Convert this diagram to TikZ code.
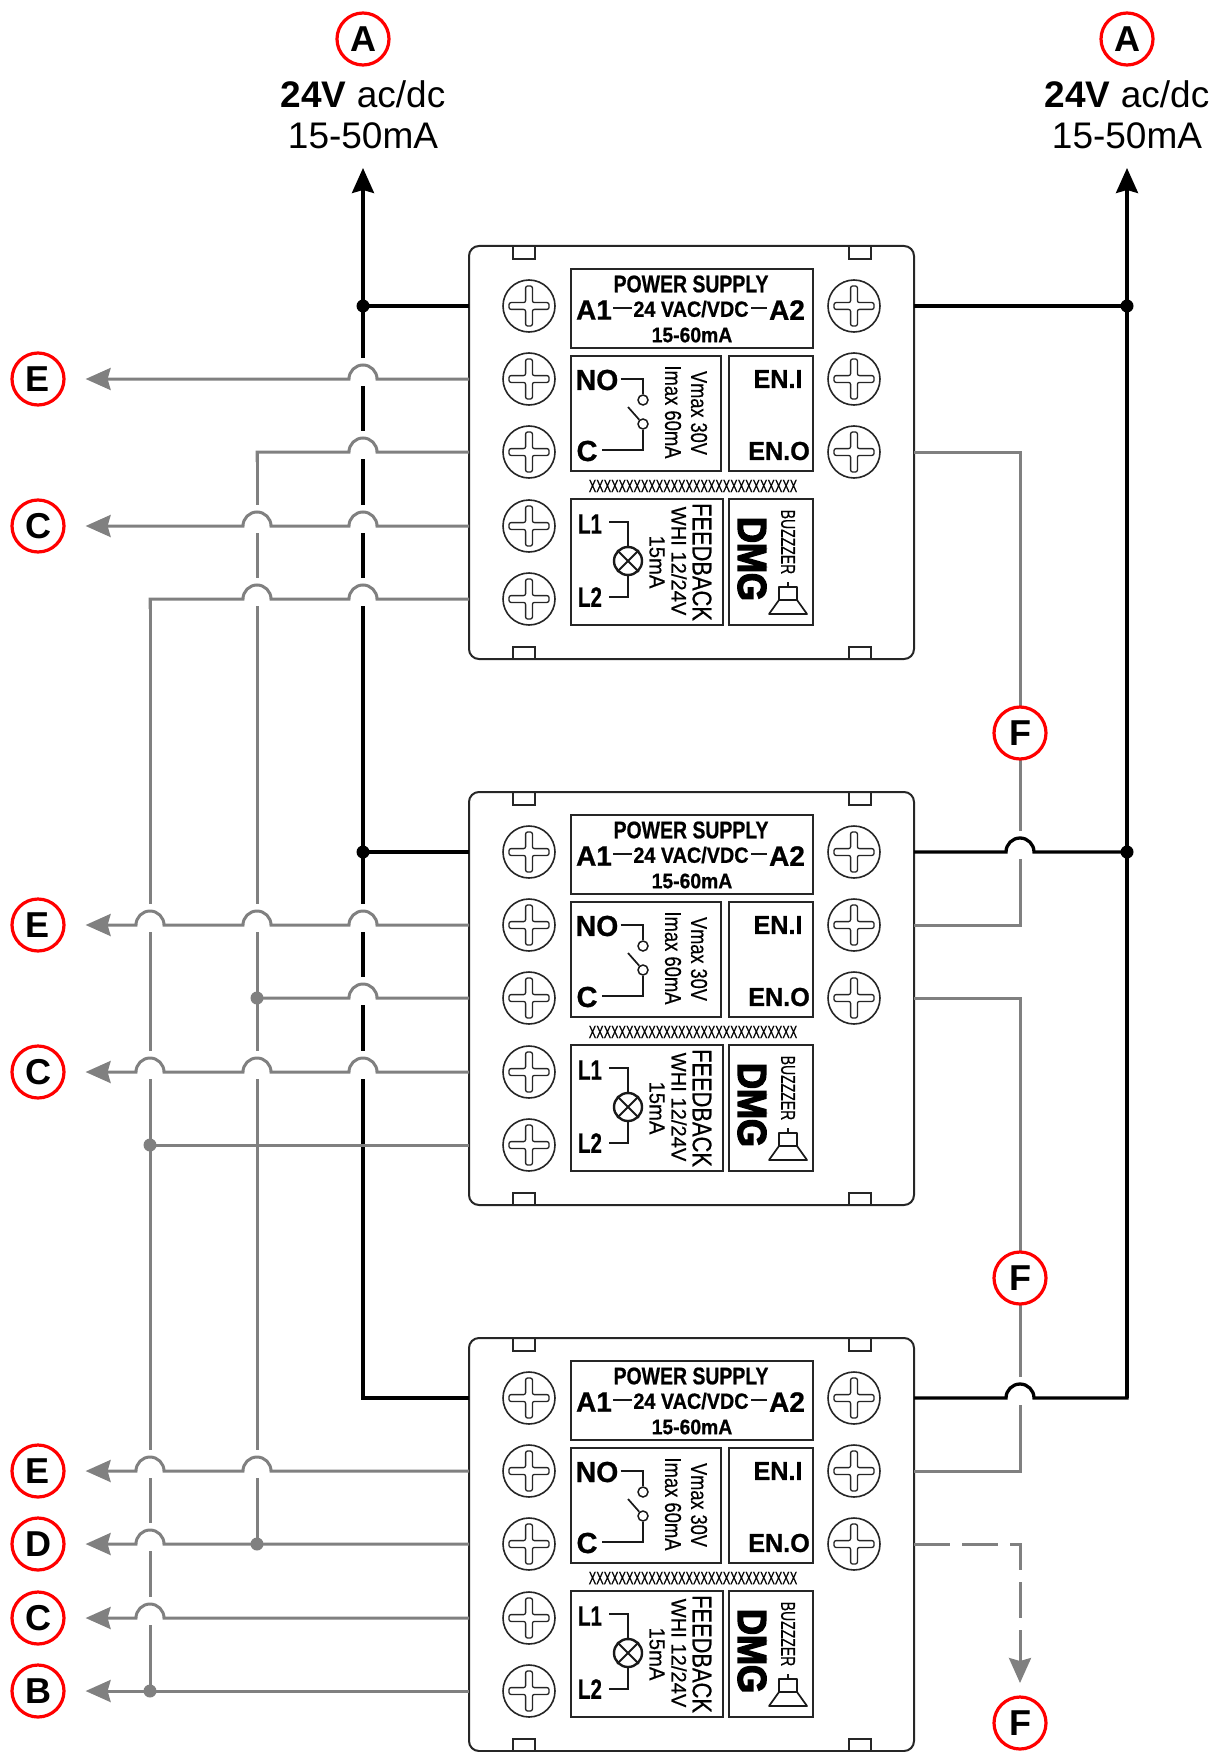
\documentclass[tikz,border=0pt]{standalone}
\usepackage{fontspec}
\setmainfont{Liberation Sans}
\newfontfamily\dmgfont[BoldFeatures={FakeBold=4}]{Liberation Sans}
\newfontfamily\panelfont[UprightFeatures={FakeBold=.5},BoldFeatures={FakeBold=.8}]{Liberation Sans}
\usetikzlibrary{arrows.meta,shapes}
\newcommand{\fsz}[1]{\fontsize{#1}{#1}\selectfont}
\newcommand{\hopl}[2]{-- ([xshift=14pt]#1 -| #2) arc (0:180:14pt)}
\newcommand{\hopr}[2]{-- ([xshift=-14pt]#1 -| #2) arc (180:0:14pt)}
\newcommand{\screw}[3]{
  \node[screwhead] (#1) at (#2,#3) {};
  \draw[screwslot,shift={(#1.center)}] (-3.4,-20) -- (3.4,-20) -- (3.4,-3.4) -- (20,-3.4) -- (20,3.4) -- (3.4,3.4)
    -- (3.4,20) -- (-3.4,20) -- (-3.4,3.4) -- (-20,3.4) -- (-20,-3.4) -- (-3.4,-3.4) -- cycle;
}
\begin{document}
\begin{tikzpicture}[x=1pt,y=-1pt]
  \tikzstyle{module}=[draw=black!85, line width=2pt, rounded corners=10pt]
  \tikzstyle{panel}=[draw=black!85, line width=2pt]
  \tikzstyle{screwhead}=[circle, draw=black!85, line width=1.6pt, fill=white, minimum size=52pt, inner sep=0pt]
  \tikzstyle{screwslot}=[draw=black!85, line width=1.3pt, rounded corners=2pt]
  \tikzstyle{thinwire}=[draw=black!90, line width=1.7pt]
  \tikzstyle{lab}=[inner sep=0pt, text=black]
  \tikzstyle{labr}=[lab, font=\panelfont\fsz{#1}]
  \tikzstyle{labb}=[lab, font=\panelfont\bfseries\fsz{#1}]
  \tikzstyle{blackwire}=[draw=black, line width=3.3pt]
  \tikzstyle{graywire}=[draw=black!50, line width=3pt]
  \tikzstyle{mask}=[draw=white, line width=8pt]
  \tikzstyle{graydot}=[circle, fill=black!50, minimum size=13pt, inner sep=0pt]
  \tikzstyle{blackdot}=[circle, fill=black, minimum size=13pt, inner sep=0pt]
  \tikzstyle{tag}=[circle, draw=red, line width=3.2pt, fill=white, minimum size=52pt, inner sep=0pt, font=\bfseries\fsz{36}]
  \tikzstyle{grayhead}=[-{Stealth[length=25pt,width=22pt,inset=3pt]}]
  \useasboundingbox (0,0) rectangle (1217,1752);
  \coordinate (va) at (150,0);
  \coordinate (vb) at (257,0);
  \coordinate (vc) at (363,0);
  \coordinate (vf) at (1020,0);
  \coordinate (vr) at (1127,0);

  \foreach \m/\dy in {1/0,2/546,3/1092}{
    \begin{scope}[yshift=-\dy pt]
      \draw[module] (469,246) rectangle (914,659);
      \draw[panel] (513,246) rectangle (535,259);
      \draw[panel] (849,246) rectangle (871,259);
      \draw[panel] (513,647) rectangle (535,659);
      \draw[panel] (849,647) rectangle (871,659);
      \foreach \r/\yy in {1/306,2/379,3/452,4/526,5/599}{
        \screw{sl\m\r}{529}{\yy}
        \coordinate (l\m\r) at (469,\yy);
      }
      \foreach \r/\yy in {1/306,2/379,3/452}{
        \screw{sr\m\r}{854}{\yy}
        \coordinate (r\m\r) at (914,\yy);
      }
      \draw[panel] (571,269) rectangle (813,348);
      \draw[panel] (571,356) rectangle (721,471);
      \draw[panel] (729,356) rectangle (813,471);
      \draw[panel] (571,499) rectangle (723,625);
      \draw[panel] (729,499) rectangle (813,625);

      \node[labb=24, xscale=.81] (ps\m) at (691,284) {POWER SUPPLY};
      \node[labb=28] (aone\m) at (594,310) {A1};
      \node[labb=28] (atwo\m) at (787,310) {A2};
      \node[labb=22, xscale=.9] (vac\m) at (691,309) {24 VAC/VDC};
      \node[labb=21, xscale=.92] (ma\m) at (692,335) {15-60mA};
      \draw[thinwire] (613,308) -- (632,308);
      \draw[thinwire] (751,308) -- (767,308);

      \node[labb=29, xscale=.98] (no\m) at (597,380) {NO};
      \node[labb=29] (com\m) at (587,451) {C};
      \node[circle, draw=black!90, line width=1.5pt, minimum size=10pt, inner sep=0pt] (ka\m) at (643,400) {};
      \node[circle, draw=black!90, line width=1.5pt, minimum size=10pt, inner sep=0pt] (kb\m) at (643,424) {};
      \draw[thinwire] (no\m.east) ++(2,-1) -- (643,379) -- (ka\m);
      \draw[thinwire] (kb\m) -- (643,450) -- (602,450);
      \draw[thinwire] (628,407) -- (kb\m);
      \node[labr=23, rotate=-90, xscale=.8] (imax\m) at (673,412) {Imax 60mA};
      \node[labr=23, rotate=-90, xscale=.79] (vmax\m) at (699,413) {Vmax 30V};
      \node[labb=26, xscale=.97] (eni\m) at (778,379) {EN.I};
      \node[labb=26, xscale=.97] (eno\m) at (779,451) {EN.O};

      \node[labr=18, xscale=.62] (ser\m) at (693,486) {XXXXXXXXXXXXXXXXXXXXXXXXXXXX};

      \node[labb=28, xscale=.73] (lone\m) at (590,524) {L1};
      \node[labb=28, xscale=.73] (ltwo\m) at (590,597) {L2};
      \node[circle, draw=black!90, line width=2.4pt, minimum size=28pt, inner sep=0pt] (lamp\m) at (628,561) {};
      \draw[line width=2pt, black!90] (lamp\m.45) -- (lamp\m.225) (lamp\m.135) -- (lamp\m.315);
      \draw[thinwire] (609,522) -- (628,522) -- (lamp\m);
      \draw[thinwire] (609,597) -- (628,597) -- (lamp\m);
      \node[labr=27, rotate=-90, xscale=.81] (feed\m) at (702,562) {FEEDBACK};
      \node[labr=21, rotate=-90, xscale=.96] (whi\m) at (679,561) {WHI 12/24V};
      \node[labr=22, rotate=-90, xscale=.92] (fma\m) at (657,562) {15mA};

      \node[lab, rotate=-90, xscale=.9, font=\dmgfont\bfseries\fsz{40}] (dmg\m) at (752,559) {DMG};
      \node[labr=20, rotate=-90, xscale=.7] (buz\m) at (788,542) {BUZZZER};
      \draw[thinwire, line join=round] (779,600) rectangle (797,587);
      \draw[thinwire, line join=round] (779,600) -- (769,614) -- (807,614) -- (797,600);
      \draw[thinwire] (788,587) -- (788,582);
    \end{scope}
  }

  \coordinate (tipl) at (363,168);
  \coordinate (tipr) at (1127,168);
  \coordinate (tipf) at (1020,1683);

  \draw[graywire] (l13 -| vb) -- (l33 -| vb);
  \draw[graywire] (l15 -| va) -- (l35 -| va);
  \draw[blackwire, -{Stealth[length=25pt,width=22pt,inset=3pt]}] (l31) -- (l31 -| vc) -- (tipl);
  \draw[blackwire] (r11) -- (r11 -| vr);
  \draw[blackwire, -{Stealth[length=25pt,width=22pt,inset=3pt]}] (r31 -| vr) -- (tipr);
  \draw[graywire] (r13) -- (r13 -| vf) -- (r22 -| vf) -- (r22);
  \draw[graywire] (r23) -- (r23 -| vf) -- (r32 -| vf) -- (r32);
  \draw[blackwire] (l11) -- (l11 -| vc);
  \draw[blackwire] (l21) -- (l21 -| vc);

  \foreach \p/\v in {l12/vc,l13/vc,l14/vc,l14/vb,l15/vc,l15/vb,l22/vc,l22/vb,l22/va,l23/vc,l24/vc,l24/vb,l24/va,l32/vb,l32/va,l33/va,l34/va,r21/vf,r31/vf}{
    \draw[mask, line cap=butt] ([yshift=21pt]\p -| \v) -- ([yshift=-7pt]\p -| \v);
  }

  \node[tag] (tagE1) at (38,379) {E};
  \node[tag] (tagC1) at (38,526) {C};
  \node[tag] (tagE2) at (38,925) {E};
  \node[tag] (tagC2) at (38,1072) {C};
  \node[tag] (tagE3) at (38,1471) {E};
  \node[tag] (tagD3) at (38,1544) {D};
  \node[tag] (tagC3) at (38,1618) {C};
  \node[tag] (tagB3) at (38,1691) {B};

  \draw[graywire, grayhead, shorten >=20pt] (l12) \hopl{l12}{vc} -- (tagE1);
  \draw[graywire] (l13) \hopl{l13}{vc} -- (l13 -| vb) -- ++(0,10);
  \draw[graywire, grayhead, shorten >=20pt] (l14) \hopl{l14}{vc} \hopl{l14}{vb} -- (tagC1);
  \draw[graywire] (l15) \hopl{l15}{vc} \hopl{l15}{vb} -- (l15 -| va) -- ++(0,10);
  \draw[graywire, grayhead, shorten >=20pt] (l22) \hopl{l22}{vc} \hopl{l22}{vb} \hopl{l22}{va} -- (tagE2);
  \draw[graywire] (l23) \hopl{l23}{vc} -- (l23 -| vb);
  \draw[graywire, grayhead, shorten >=20pt] (l24) \hopl{l24}{vc} \hopl{l24}{vb} \hopl{l24}{va} -- (tagC2);
  \draw[graywire] (l25) -- (l25 -| va);
  \draw[graywire, grayhead, shorten >=20pt] (l32) \hopl{l32}{vb} \hopl{l32}{va} -- (tagE3);
  \draw[graywire, grayhead, shorten >=20pt] (l33) \hopl{l33}{va} -- (tagD3);
  \draw[graywire, grayhead, shorten >=20pt] (l34) \hopl{l34}{va} -- (tagC3);
  \draw[graywire, grayhead, shorten >=20pt] (l35) -- (tagB3);
  \draw[blackwire] (r21) \hopr{r21}{vf} -- (r21 -| vr);
  \draw[blackwire] (r31) \hopr{r31}{vf} -- (r31 -| vr) -- ([yshift=1.6pt]r31 -| vr);
  \draw[graywire, grayhead, dash pattern=on 36pt off 12pt] (r33) -- (r33 -| vf) -- (tipf);

  \node[blackdot] (jl1) at (l11 -| vc) {};
  \node[blackdot] (jl2) at (l21 -| vc) {};
  \node[blackdot] (jr1) at (r11 -| vr) {};
  \node[blackdot] (jr2) at (r21 -| vr) {};
  \node[graydot] (jb2) at (l23 -| vb) {};
  \node[graydot] (ja2) at (l25 -| va) {};
  \node[graydot] (jb3) at (l33 -| vb) {};
  \node[graydot] (ja3) at (l35 -| va) {};

  \node[tag] (tagA1) at (363,39) {A};
  \node[tag] (tagA2) at (1127,39) {A};
  \node[lab, align=center, font=\fsz{37}] (supl) at (363,115) {\textbf{24V} ac/dc\\[4pt]15-50mA};
  \node[lab, align=center, font=\fsz{37}] (supr) at (1127,115) {\textbf{24V} ac/dc\\[4pt]15-50mA};
  \node[tag] (tagF1) at (1020,733) {F};
  \node[tag] (tagF2) at (1020,1278) {F};
  \node[tag] (tagF3) at (1020,1723) {F};
\end{tikzpicture}
\end{document}
